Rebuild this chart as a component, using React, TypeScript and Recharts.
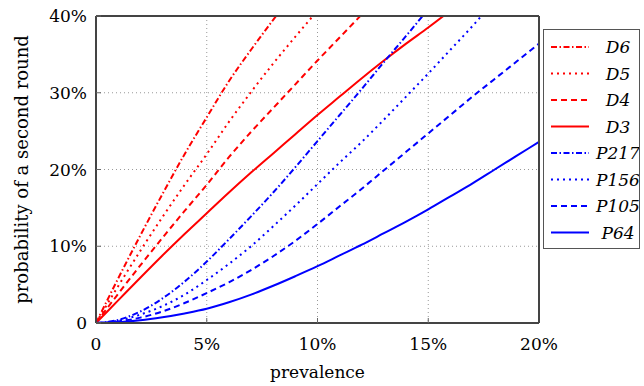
import React from "react";
import {
  LineChart,
  Line,
  XAxis,
  YAxis,
  CartesianGrid,
} from "recharts";

// prevalence in %, probability in %
const prevalence = [0, 1, 2, 3, 4, 5, 6, 7, 8, 9, 10, 11, 12, 13, 14, 15, 16, 17, 18, 19, 20];

const d6 = [0, 5.8, 11.4, 16.8, 22, 26.8, 31.5, 35.6, 39.5, 43.3, null, null, null, null, null, null, null, null, null, null, null];
const d5 = [0, 4.8, 9.4, 13.8, 18, 22, 26.2, 30.1, 33.8, 37.3, 40.7, null, null, null, null, null, null, null, null, null, null];
const d4 = [0, 3.8, 7.5, 11.1, 14.6, 18, 21.6, 24.9, 28, 31.1, 34.2, 37.2, 40.2, null, null, null, null, null, null, null, null];
const d3 = [0, 2.95, 5.9, 8.8, 11.6, 14.3, 17, 19.6, 22.1, 24.6, 27.1, 29.5, 31.9, 34.2, 36.4, 38.5, 40.7, null, null, null, null];
const p217 = [0, 0.4, 1.5, 3.2, 5.4, 8, 10.9, 13.9, 17, 20.3, 23.7, 27.1, 30.5, 34, 37.4, 40.9, null, null, null, null, null];
const p156 = [0, 0.3, 1.1, 2.2, 3.7, 5.6, 7.7, 10, 12.6, 15.3, 18.1, 20.9, 23.6, 26.5, 29.5, 32.5, 35.6, 38.7, 42, null, null];
const p105 = [0, 0.2, 0.7, 1.5, 2.6, 3.9, 5.3, 6.9, 8.7, 10.7, 12.9, 15.2, 17.5, 19.9, 22.3, 24.7, 27.1, 29.5, 31.8, 34.1, 36.4];
const p64 = [0, 0.1, 0.35, 0.75, 1.25, 1.85, 2.7, 3.7, 4.85, 6.1, 7.4, 8.8, 10.2, 11.7, 13.2, 14.8, 16.5, 18.2, 20, 21.8, 23.6];

const xTicks = [0, 5, 10, 15, 20];
const yTicks = [0, 10, 20, 30, 40];

const RED = "#ff0000";
const BLUE = "#0000ff";
const DASHDOT = "6 2.5 1.5 2.5";
const DOTTED = "2 4";
const DASHED = "6 4";

const series = [
  { key: "D6", values: d6, color: RED, dash: DASHDOT },
  { key: "D5", values: d5, color: RED, dash: DOTTED },
  { key: "D4", values: d4, color: RED, dash: DASHED },
  { key: "D3", values: d3, color: RED, dash: undefined },
  { key: "P217", values: p217, color: BLUE, dash: DASHDOT },
  { key: "P156", values: p156, color: BLUE, dash: DOTTED },
  { key: "P105", values: p105, color: BLUE, dash: DASHED },
  { key: "P64", values: p64, color: BLUE, dash: undefined },
];

const data = prevalence.map((p, i) => {
  const row: Record<string, number | null> = { p };
  series.forEach((s) => {
    row[s.key] = s.values[i];
  });
  return row;
});

const FONT = "DejaVu Serif";
const tickStyle = { fontSize: 17, fill: "#000", fontFamily: FONT };
const pct = (v: number) => (v === 0 ? "0" : `${v}%`);
const axisLine = { stroke: "#444", strokeWidth: 2 };
const tickLine = { stroke: "#666" };

function LegendBox() {
  return (
    <div
      style={{
        position: "absolute",
        left: 543,
        top: 29,
        width: 95,
        height: 218,
        border: "1.5px solid #555",
        background: "#fff",
      }}
    >
      <svg width={95} height={218}>
        {series.map((s, i) => {
          const y = 17 + i * 26.5;
          return (
            <g key={s.key}>
              <line
                x1={7}
                x2={45}
                y1={y}
                y2={y}
                stroke={s.color}
                strokeWidth={2}
                strokeDasharray={s.dash}
              />
              <text
                x={74}
                y={y + 6}
                textAnchor="middle"
                fontFamily={FONT}
                fontStyle="italic"
                fontSize={17}
              >
                {s.key}
              </text>
            </g>
          );
        })}
      </svg>
    </div>
  );
}

export default function App() {
  return (
    <div style={{ position: "absolute", left: 0, top: 0, width: 644, height: 386 }}>
      <LineChart
        width={644}
        height={386}
        data={data}
        margin={{ top: 15, right: 104, left: 0, bottom: 0 }}
      >
        <CartesianGrid
          xAxisId="b"
          yAxisId="l"
          stroke="#999"
          strokeDasharray="1 3"
        />
        <XAxis
          xAxisId="b"
          dataKey="p"
          type="number"
          domain={[0, 20]}
          ticks={xTicks}
          tickFormatter={pct}
          tick={tickStyle}
          tickSize={-5}
          tickMargin={20}
          axisLine={axisLine}
          tickLine={tickLine}
          height={63}
          label={{
            value: "prevalence",
            position: "insideBottom",
            offset: 8,
            fontSize: 17,
            fill: "#000",
            fontFamily: FONT,
          }}
        />
        <XAxis
          xAxisId="t"
          orientation="top"
          dataKey="p"
          type="number"
          domain={[0, 20]}
          ticks={xTicks}
          tick={false}
          tickSize={-5}
          axisLine={axisLine}
          tickLine={tickLine}
          height={1}
        />
        <YAxis
          yAxisId="l"
          type="number"
          domain={[0, 40]}
          ticks={yTicks}
          allowDataOverflow
          tickFormatter={pct}
          tick={tickStyle}
          tickSize={-5}
          tickMargin={14}
          axisLine={axisLine}
          tickLine={tickLine}
          width={96}
          label={{
            value: "probability of a second round",
            angle: -90,
            position: "insideLeft",
            offset: 22,
            fontSize: 18,
            fill: "#000",
            fontFamily: FONT,
            style: { textAnchor: "middle" },
          }}
        />
        <YAxis
          yAxisId="r"
          orientation="right"
          type="number"
          domain={[0, 40]}
          ticks={yTicks}
          allowDataOverflow
          tick={false}
          tickSize={-5}
          axisLine={axisLine}
          tickLine={tickLine}
          width={1}
        />
        {series.map((s) => (
          <Line
            key={s.key}
            xAxisId="b"
            yAxisId="l"
            type="monotone"
            dataKey={s.key}
            stroke={s.color}
            strokeWidth={2}
            strokeDasharray={s.dash}
            dot={false}
            activeDot={false}
            isAnimationActive={false}
          />
        ))}
      </LineChart>
      <LegendBox />
    </div>
  );
}
